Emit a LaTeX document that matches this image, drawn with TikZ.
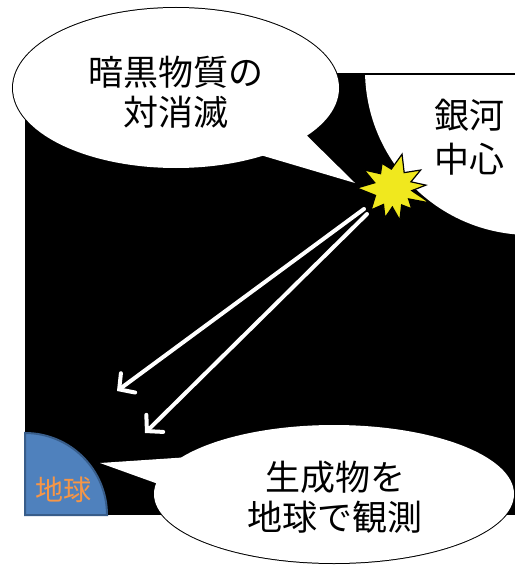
\documentclass[tikz,border=0pt]{standalone}
\usepackage{fontspec}
\setmainfont{Noto Sans CJK JP}
\usetikzlibrary{arrows.meta}
\definecolor{earthblue}{RGB}{79,129,189}
\definecolor{earthedge}{RGB}{56,93,138}
\definecolor{earthtext}{RGB}{247,150,70}
\definecolor{burstyellow}{RGB}{240,232,30}

\begin{document}
\begin{tikzpicture}[x=1pt,y=-1pt,
  bubble/.style={fill=white,draw=black,line width=2pt},
  bubblefill/.style={fill=white},
  ray/.style={draw=white,line width=4pt,line cap=round,
    -{Straight Barb[length=11pt,width=24pt,line cap=round]}},
  bubbletext/.style={font=\fontsize{35}{40}\selectfont,align=center,inner sep=0pt}]
\useasboundingbox (0,0) rectangle (514,567);
\fill[white] (0,0) rectangle (514,567);

% dark sky
\fill[black] (25,74) rectangle (520,515);
% galactic centre, cut off by the sky frame
\begin{scope}
  \clip (25,74) rectangle (520,515);
  \fill[white] (530,70) circle (165);
\end{scope}
\draw[line width=2pt] (25,74) -- (520,74);
\node[bubbletext,font=\fontsize{35}{44}\selectfont] (gc) at (469,137) {銀河\\中心};

% the Earth in the corner
\draw[fill=earthblue,draw=earthedge,line width=2pt]
  (25,515) -- (25,433) arc[start angle=-90,end angle=0,radius=82] -- cycle;
\node[inner sep=0pt,text=earthtext,font=\fontsize{28}{30}\selectfont] (earth) at (63,490) {地球};

% products travelling towards the Earth
\coordinate (r1s) at (364,209);
\coordinate (r1e) at (117,391);
\coordinate (r2s) at (367,214);
\coordinate (r2e) at (145,433);
\draw[ray] (r1s) -- (r1e);
\draw[ray] (r2s) -- (r2e);

% speech bubble: annihilation
\draw[bubble] (176,88) ellipse [x radius=163, y radius=80];
\draw[bubble] (240,149) -- (355,183) -- (290,119) -- cycle;
\fill[bubblefill] (176,88) ellipse [x radius=163, y radius=80];
\fill[bubblefill] (240,149) -- (355,183) -- (290,119) -- cycle;
\node[bubbletext] (ann) at (176,92) {暗黒物質の\\対消滅};

% speech bubble: observation
\draw[bubble] (334,494) ellipse [x radius=180, y radius=69];
\draw[bubble] (200,499) -- (100,463) -- (220,455) -- cycle;
\fill[bubblefill] (334,494) ellipse [x radius=180, y radius=69];
\fill[bubblefill] (200,499) -- (100,463) -- (220,455) -- cycle;
\node[bubbletext] (obs) at (335,497) {生成物を\\地球で観測};

% annihilation burst
\coordinate (burst) at (393,188);
\begin{scope}[shift={(burst)}]
  \draw[fill=burstyellow,draw=black,line width=1.2pt,line join=miter]
    (-75:35) -- (-54:19) -- (-33:33) -- (-19:19) -- (-5:33) -- (8:19) --
    (22:40) -- (35:19) -- (48:28) -- (63:19) -- (78:33) -- (92:19) --
    (105:31) -- (120:19) -- (135:31) -- (157:19) -- (180:36) -- (196:19) --
    (212:34) -- (229:19) -- (246:27) -- (265:19) -- cycle;
\end{scope}
\end{tikzpicture}
\end{document}
